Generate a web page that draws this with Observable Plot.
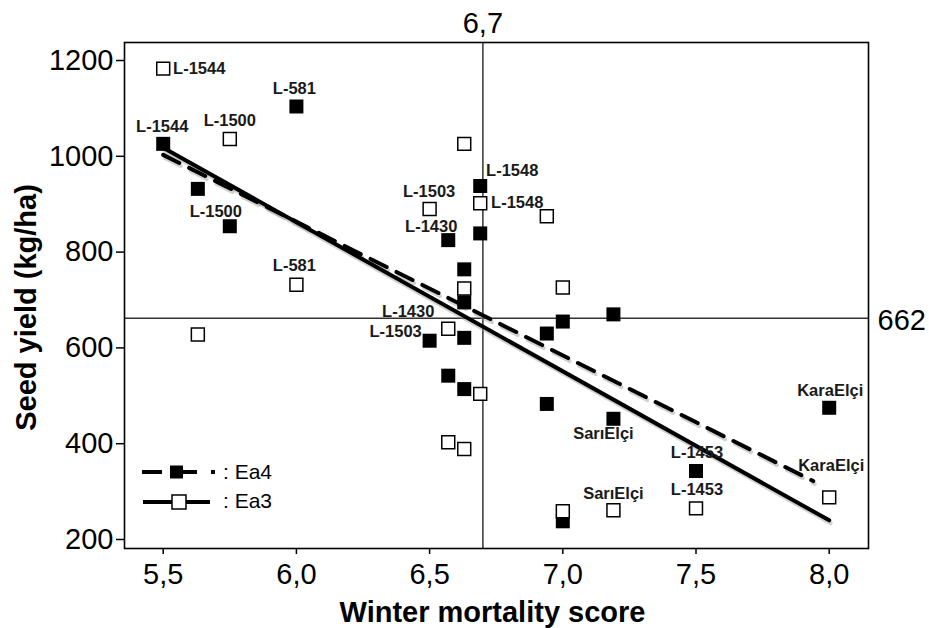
<!DOCTYPE html>
<html><head><meta charset="utf-8">
<script src="https://cdn.jsdelivr.net/npm/d3@7"></script>
<script src="https://cdn.jsdelivr.net/npm/@observablehq/plot@0.6"></script>
<style>body{margin:0;background:#fff}#chart{width:929px;height:628px}</style>
</head><body><div id="chart"></div>
<script>
// ---- data ----
const xTicks = [5.5, 6.0, 6.5, 7.0, 7.5, 8.0];
const yTicks = [200, 400, 600, 800, 1000, 1200];
const meanScore = 6.7;
const meanYield = 662;

// Ea4 (filled squares)
const ea4Score = [5.5, 6.0, 5.63, 5.75, 6.69, 6.69, 6.57, 6.63, 6.63, 7.0, 6.94, 6.5, 6.63, 7.19, 6.57, 6.63, 6.94, 7.19, 7.0, 8.0, 7.5];
const ea4Yield = [1026, 1104, 932, 854, 938, 839, 825, 764, 695, 655, 630, 615, 621, 670, 542, 514, 483, 452, 238, 475, 343];
const ea4Label = ["L-1544", "L-581", "", "L-1500", "L-1548", "", "L-1430", "", "", "", "", "L-1503", "", "", "", "", "", "SarıElçi", "", "KaraElçi", "L-1453"];

// Ea3 (open squares)
const ea3Score = [5.5, 5.75, 6.0, 5.63, 6.63, 6.69, 6.5, 6.94, 6.63, 7.0, 6.57, 6.69, 6.57, 6.63, 7.19, 7.0, 8.0, 7.5];
const ea3Yield = [1183, 1036, 732, 628, 1026, 902, 890, 875, 724, 726, 640, 504, 403, 389, 261, 259, 288, 265];
const ea3Label = ["L-1544", "L-1500", "L-581", "", "", "L-1548", "L-1503", "", "", "", "L-1430", "", "", "", "SarıElçi", "", "KaraElçi", "L-1453"];

// fitted regression lines (end points)
const ea4FitScore = [5.5, 7.94];
const ea4FitYield = [1003, 322];
const ea3FitScore = [5.5, 8.0];
const ea3FitYield = [1018, 240];

// ---- label placement (pixels) ----
const ea4Offsets = {"L-1544":[-1,-17.5],"L-581":[-2,-18],"L-1500":[-14,-14.5],"L-1548":[32,-15],"L-1430":[-17,-13],"L-1503":[-34,-8.5],"SarıElçi":[-10,14.5],"KaraElçi":[1,-17],"L-1453":[1,-18]};
const ea3Offsets = {"L-1544":[36,0.5],"L-1500":[0,-18],"L-581":[-2,-18.5],"L-1548":[37,-1],"L-1503":[-0.5,-17],"L-1430":[-40,-17],"SarıElçi":[0,-17],"KaraElçi":[2,-32],"L-1453":[1,-18.5]};

const ea4 = ea4Score.map((s, i) => ({score: s, yield: ea4Yield[i], label: ea4Label[i]}));
const ea3 = ea3Score.map((s, i) => ({score: s, yield: ea3Yield[i], label: ea3Label[i]}));
const ea4Fit = ea4FitScore.map((s, i) => ({score: s, yield: ea4FitYield[i]}));
const ea3Fit = ea3FitScore.map((s, i) => ({score: s, yield: ea3FitYield[i]}));

const FONT = "'Liberation Sans', Arial, Helvetica, sans-serif";
const fmt = d => d.toFixed(1).replace(".", ",");

function labelMarks(data, offsets) {
  return data.filter(d => d.label).map(d => {
    const [dx, dy] = offsets[d.label];
    return Plot.text([d], {x: "score", y: "yield", text: "label", dx, dy, fontSize: 16.5, fontWeight: "bold", fill: "#1a1a1a", lineAnchor: "middle"});
  });
}

const plot = Plot.plot({
  width: 929, height: 628,
  marginLeft: 124, marginRight: 61, marginTop: 42, marginBottom: 80,
  style: {fontFamily: FONT, background: "#fff", color: "#000", overflow: "visible"},
  x: {domain: [5.3547, 8.1475]},
  y: {domain: [181.2, 1237.6]},
  marks: [
    Plot.ruleX([meanScore], {stroke: "#333", strokeWidth: 1.5}),
    Plot.ruleY([meanYield], {stroke: "#333", strokeWidth: 1.5}),
    Plot.frame({stroke: "#000", strokeWidth: 1.6}),
    Plot.axisX({ticks: xTicks, tickSize: 6, tickPadding: 9, fontSize: 29, tickFormat: fmt, label: null, strokeWidth: 1.5}),
    Plot.axisY({ticks: yTicks, tickSize: 8, tickPadding: 3, fontSize: 29, tickFormat: d => String(d), label: null, strokeWidth: 1.5}),
    Plot.text([fmt(meanScore)], {x: () => meanScore, frameAnchor: "top", lineAnchor: "middle", textAnchor: "middle", dy: -19, fontSize: 29}),
    Plot.text([String(meanYield)], {y: () => meanYield, frameAnchor: "right", lineAnchor: "middle", textAnchor: "start", dx: 9, dy: 3, fontSize: 29}),
    Plot.text(["Winter mortality score"], {frameAnchor: "bottom", lineAnchor: "middle", textAnchor: "middle", dx: -4, dy: 64, fontSize: 29, fontWeight: "bold"}),
    Plot.text(["Seed yield (kg/ha)"], {frameAnchor: "left", lineAnchor: "middle", textAnchor: "middle", rotate: -90, dx: -98, dy: 12, fontSize: 29, fontWeight: "bold"}),
    // shadows of fitted lines
    Plot.line(ea4Fit, {x: "score", y: "yield", stroke: "#999", strokeOpacity: 0.45, strokeWidth: 4, strokeDasharray: "18,11", dx: 1.5, dy: 3}),
    Plot.line(ea3Fit, {x: "score", y: "yield", stroke: "#999", strokeOpacity: 0.45, strokeWidth: 4, dx: 1.5, dy: 3}),
    Plot.line(ea4Fit, {x: "score", y: "yield", stroke: "#000", strokeWidth: 4, strokeDasharray: "18,11"}),
    Plot.line(ea3Fit, {x: "score", y: "yield", stroke: "#000", strokeWidth: 4}),
    Plot.dot(ea4, {x: "score", y: "yield", symbol: "square", r: 7.9, fill: "#000", stroke: "none"}),
    Plot.dot(ea3, {x: "score", y: "yield", symbol: "square", r: 7.3, fill: "#fff", stroke: "#000", strokeWidth: 1.5}),
    ...labelMarks(ea4, ea4Offsets),
    ...labelMarks(ea3, ea3Offsets)
  ]
});
document.getElementById("chart").appendChild(plot);

// ---- legend (inside plot, bottom-left) ----
const svg = d3.select(plot);
const lg = svg.append("g").attr("font-family", FONT).attr("text-anchor", "start");
lg.append("line").attr("x1", 142).attr("x2", 216).attr("y1", 472).attr("y2", 472)
  .attr("stroke", "#000").attr("stroke-width", 4).attr("stroke-dasharray", "20,8,27,14,4");
lg.append("rect").attr("x", 170).attr("y", 465.5).attr("width", 13).attr("height", 13).attr("fill", "#000");
lg.append("text").attr("x", 223).attr("y", 472).attr("dy", "0.35em").attr("font-size", 21).attr("text-anchor", "start").text(": Ea4");
lg.append("line").attr("x1", 143).attr("x2", 210).attr("y1", 502).attr("y2", 502)
  .attr("stroke", "#000").attr("stroke-width", 4);
lg.append("rect").attr("x", 172).attr("y", 495).attr("width", 14).attr("height", 14)
  .attr("fill", "#fff").attr("stroke", "#000").attr("stroke-width", 1.5);
lg.append("text").attr("x", 223).attr("y", 501).attr("dy", "0.35em").attr("font-size", 21).attr("text-anchor", "start").text(": Ea3");
</script>
</body></html>
